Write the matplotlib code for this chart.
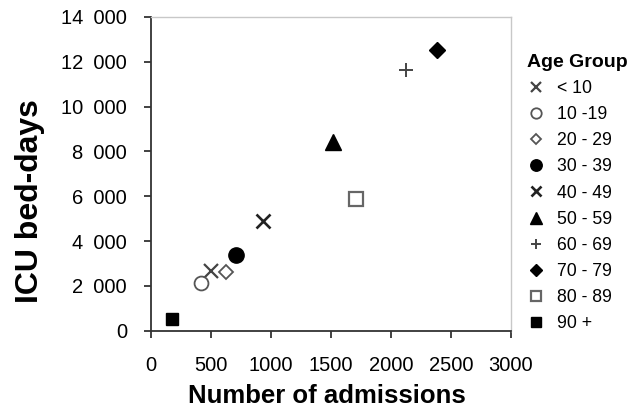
import matplotlib
matplotlib.use('Agg')
import matplotlib.pyplot as plt
from matplotlib.ticker import FuncFormatter

plt.rcParams['font.family'] = ['Liberation Sans', 'DejaVu Sans']

age_groups = ['< 10', '10 -19', '20 - 29', '30 - 39', '40 - 49',
              '50 - 59', '60 - 69', '70 - 79', '80 - 89', '90 +']
admissions = [500, 417, 628, 711, 940, 1522, 2128, 2383, 1711, 177]
bed_days = [2690, 2150, 2620, 3360, 4880, 8440, 11640, 12500, 5890, 540]

# marker, size, face, edge, edge width
styles = [
    ('x', 10, 'none', '#444444', 1.6),
    ('o', 10, 'white', '#555555', 1.3),
    ('D', 7, 'white', '#555555', 1.3),
    ('o', 11, 'black', 'black', 1.0),
    ('x', 10, 'none', '#222222', 1.9),
    ('^', 11, 'black', 'black', 1.0),
    ('+', 10, 'none', '#444444', 1.4),
    ('D', 8, 'black', 'black', 1.0),
    ('s', 10, 'white', '#666666', 1.6),
    ('s', 9, 'black', 'black', 1.0),
]

fig = plt.figure(figsize=(6.3, 4.11), dpi=100)
ax = fig.add_axes([0.239, 0.195, 0.572, 0.764])

for name, x, y, (m, ms, fc, ec, mew) in zip(age_groups, admissions, bed_days, styles):
    ax.plot([x], [y], linestyle='none', marker=m, markersize=ms,
            markerfacecolor=fc, markeredgecolor=ec, markeredgewidth=mew,
            label=name)

ax.set_xlim(0, 3000)
ax.set_ylim(0, 14000)
ax.set_xticks(range(0, 3001, 500))
ax.set_yticks(range(0, 14001, 2000))
ax.yaxis.set_major_formatter(FuncFormatter(
    lambda v, p: f'{int(v):,}'.replace(',', '\u2002')))

for side in ['top', 'right']:
    ax.spines[side].set_color('#c8c8c8')
    ax.spines[side].set_linewidth(1.0)
for side in ['left', 'bottom']:
    ax.spines[side].set_color('#333333')
    ax.spines[side].set_linewidth(1.3)

ax.tick_params(axis='both', direction='out', length=5, width=1.3,
               color='#333333', labelsize=14.5)
ax.tick_params(axis='x', pad=13)
ax.tick_params(axis='y', pad=12)

ax.set_xlabel('Number of admissions', fontsize=18.5, fontweight='bold')
ax.xaxis.set_label_coords(0.49, -0.168)
ax.set_ylabel('ICU bed-days', fontsize=23, fontweight='bold')
ax.yaxis.set_label_coords(-0.293, 0.414)

leg = ax.legend(loc='upper left', bbox_to_anchor=(1.025, 0.905), frameon=False,
                title='Age Group', fontsize=12.7, labelspacing=0.52,
                handlelength=1.0, handletextpad=0.7, borderaxespad=0,
                markerscale=0.75)
leg.get_title().set_fontweight('bold')
leg.get_title().set_fontsize(14)
leg._legend_box.align = 'left'

fig.savefig('out.png', dpi=100)
